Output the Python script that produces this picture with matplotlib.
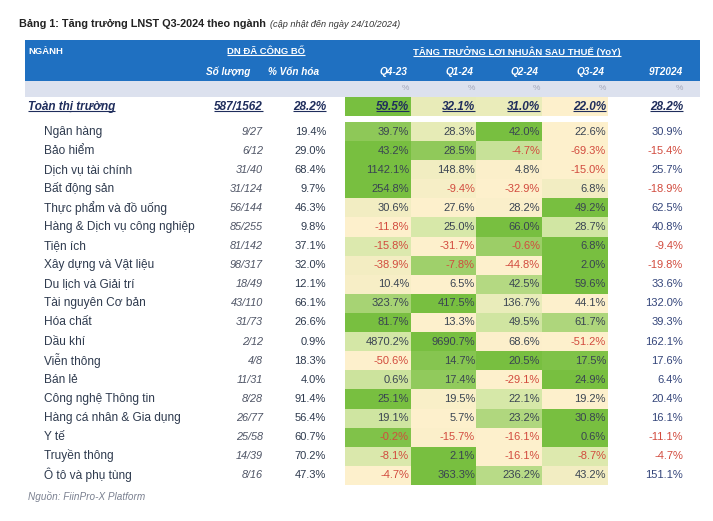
import numpy as np
import matplotlib
matplotlib.use('Agg')
import matplotlib.pyplot as plt
from matplotlib import font_manager as fm
from matplotlib.colors import LinearSegmentedColormap

# ---------------- Data ----------------
sectors = ['Ngân hàng', 'Bảo hiểm', 'Dịch vụ tài chính', 'Bất động sản',
           'Thực phẩm và đồ uống', 'Hàng & Dịch vụ công nghiệp', 'Tiện ích',
           'Xây dựng và Vật liệu', 'Du lịch và Giải trí', 'Tài nguyên Cơ bản',
           'Hóa chất', 'Dầu khí', 'Viễn thông', 'Bán lẻ', 'Công nghệ Thông tin',
           'Hàng cá nhân & Gia dụng', 'Y tế', 'Truyền thông', 'Ô tô và phụ tùng']
so_luong = ['9/27', '6/12', '31/40', '31/124', '56/144', '85/255', '81/142',
            '98/317', '18/49', '43/110', '31/73', '2/12', '4/8', '11/31',
            '8/28', '26/77', '25/58', '14/39', '8/16']
von_hoa = [19.4, 29.0, 68.4, 9.7, 46.3, 9.8, 37.1, 32.0, 12.1, 66.1, 26.6,
           0.9, 18.3, 4.0, 91.4, 56.4, 60.7, 70.2, 47.3]
q4_23 = [39.7, 43.2, 1142.1, 254.8, 30.6, -11.8, -15.8, -38.9, 10.4, 323.7,
         81.7, 4870.2, -50.6, 0.6, 25.1, 19.1, -0.2, -8.1, -4.7]
q1_24 = [28.3, 28.5, 148.8, -9.4, 27.6, 25.0, -31.7, -7.8, 6.5, 417.5,
         13.3, 9690.7, 14.7, 17.4, 19.5, 5.7, -15.7, 2.1, 363.3]
q2_24 = [42.0, -4.7, 4.8, -32.9, 28.2, 66.0, -0.6, -44.8, 42.5, 136.7,
         49.5, 68.6, 20.5, -29.1, 22.1, 23.2, -16.1, -16.1, 236.2]
q3_24 = [22.6, -69.3, -15.0, 6.8, 49.2, 28.7, 6.8, 2.0, 59.6, 44.1,
         61.7, -51.2, 17.5, 24.9, 19.2, 30.8, 0.6, -8.7, 43.2]
t9_2024 = [30.9, -15.4, 25.7, -18.9, 62.5, 40.8, -9.4, -19.8, 33.6, 132.0,
           39.3, 162.1, 17.6, 6.4, 20.4, 16.1, -11.1, -4.7, 151.1]

total_name = 'Toàn thị trường'
total_count = '587/1562'
total_cap = 28.2
total_growth = [59.5, 32.1, 31.0, 22.0]
total_9t = 28.2

quarter_labels = ['Q4-23', 'Q1-24', 'Q2-24', 'Q3-24']
title = 'Bảng 1: Tăng trưởng LNST Q3-2024 theo ngành'
subtitle = '(cập nhật đến ngày 24/10/2024)'
source = 'Nguồn: FiinPro-X Platform'

# ---------------- Fonts / colours ----------------
installed = {f.name for f in fm.fontManager.ttflist}
body = 'Liberation Sans'
narrow = 'Liberation Sans Narrow' if 'Liberation Sans Narrow' in installed else body

blue = '#1F70C1'
band = '#DCE1EE'
navy = '#1F2D5C'
txt = '#2E3A4E'
pos_col = '#3A4452'
neg_col = '#D24B3E'
pos_9t = '#34457A'
cmap = LinearSegmentedColormap.from_list('cream_green', ['#FDF0CC', '#D6E8A8', '#78BF40'])

# ---------------- Layout (pixels) ----------------
W, H = 713, 521
x_left, x_right = 25, 700
x_total, x_name = 28, 44
x_count, x_cap = 263, 326
x_cells = (345, 608)
q_right = [409, 475, 540, 606]
x_9t = 683
y0, dy = 122.2, 19.07
n = len(sectors)

fig = plt.figure(figsize=(W / 100, H / 100), dpi=100)
ax = fig.add_axes([0, 0, 1, 1])


def fmt(v):
    return f'{v:.1f}%'


def row_norm(m):
    m = np.asarray(m, dtype=float)
    lo = m.min(axis=1, keepdims=True)
    hi = m.max(axis=1, keepdims=True)
    return (m - lo) / (hi - lo)


# Heat-map cells (per-row colour scale)
growth = np.array([q4_23, q1_24, q2_24, q3_24]).T
ax.imshow(row_norm(growth), cmap=cmap, vmin=0, vmax=1, aspect='auto',
          interpolation='nearest', extent=[x_cells[0], x_cells[1], y0 + n * dy, y0])
ax.imshow(row_norm([total_growth]), cmap=cmap, vmin=0, vmax=1, aspect='auto',
          interpolation='nearest', extent=[x_cells[0], x_cells[1], 116, 97])

# Header bands
ax.add_patch(plt.Rectangle((x_left, 40), x_right - x_left, 41, color=blue, lw=0))
ax.add_patch(plt.Rectangle((x_left, 81), x_right - x_left, 16, color=band, lw=0))

ax.set_xlim(0, W)
ax.set_ylim(H, 0)
ax.axis('off')

# Title
t = ax.text(19, 24, title, fontsize=7.8 if narrow == body else 9.6, fontweight='bold',
            family=narrow, color='#222222', va='center', ha='left')
ax.annotate(subtitle, xy=(1, 0), xycoords=t, xytext=(3, 0), textcoords='offset points',
            fontsize=6.6, style='italic', family=narrow, color='#333333', va='bottom')

underlined = []

# Header texts
hkw = dict(color='white', fontweight='bold', family=narrow, va='center')
ax.text(28, 52, 'NGÀNH', fontsize=6.8, ha='left', **hkw)
underlined.append(ax.text(266, 52, 'DN ĐÃ CÔNG BỐ', fontsize=6.8, ha='center', **hkw))
underlined.append(ax.text(517, 52, 'TĂNG TRƯỞNG LỢI NHUẬN SAU THUẾ (YoY)',
                          fontsize=6.8, ha='center', **hkw))
ax.text(250, 72, 'Số lượng', fontsize=7.2, ha='right', style='italic', **hkw)
ax.text(319, 72, '% Vốn hóa', fontsize=7.2, ha='right', style='italic', **hkw)
for xr, lab in zip(q_right, quarter_labels):
    ax.text(xr - 1, 72, lab, fontsize=7.2, ha='right', style='italic', **hkw)
ax.text(x_9t, 72, '9T2024', fontsize=7.2, ha='right', style='italic', **hkw)

for xr in q_right + [x_9t]:
    ax.text(xr, 89, '%', fontsize=6, ha='right', va='center', color='#A3A7BA', family=body)

# Total row
tkw = dict(color=navy, fontweight='bold', style='italic', family=body, va='center',
           fontsize=8.5)
yt = 107
underlined.append(ax.text(x_total, yt, total_name, ha='left', **tkw))
underlined.append(ax.text(x_count, yt, total_count, ha='right', **tkw))
underlined.append(ax.text(x_cap, yt, fmt(total_cap), ha='right', **tkw))
for xr, v in zip(q_right, total_growth):
    underlined.append(ax.text(xr, yt, fmt(v), ha='right', **tkw))
underlined.append(ax.text(x_9t, yt, fmt(total_9t), ha='right', **tkw))

# Sector rows
for i in range(n):
    yc = y0 + (i + 0.5) * dy
    ax.text(x_name, yc, sectors[i], fontsize=8.6, color=txt, family=body,
            ha='left', va='center')
    ax.text(x_count, yc, so_luong[i], fontsize=7.8, color='#4F5566', family=body,
            style='italic', ha='right', va='center')
    ax.text(x_cap, yc, fmt(von_hoa[i]), fontsize=8, color=txt, family=body,
            ha='right', va='center')
    for xr, v in zip(q_right, growth[i]):
        ax.text(xr, yc, fmt(v), fontsize=8, color=neg_col if v < 0 else pos_col,
                family=body, ha='right', va='center')
    v = t9_2024[i]
    ax.text(x_9t, yc, fmt(v), fontsize=8, color=neg_col if v < 0 else pos_9t,
            family=body, ha='right', va='center')

# Source
ax.text(28, 497, source, fontsize=7.2, style='italic', color='#7A8090',
        family=body, ha='left', va='center')

# Underlines drawn from the rendered text extents
fig.canvas.draw()
renderer = fig.canvas.get_renderer()
inv = ax.transData.inverted()
for tx in underlined:
    bb = tx.get_window_extent(renderer)
    (xa, ya), (xb, _) = inv.transform([(bb.x0, bb.y0 + 1.6), (bb.x1, bb.y0 + 1.6)])
    ax.plot([xa, xb], [ya, ya], color=tx.get_color(), lw=0.8, solid_capstyle='butt')

fig.savefig('out.png', dpi=100)
